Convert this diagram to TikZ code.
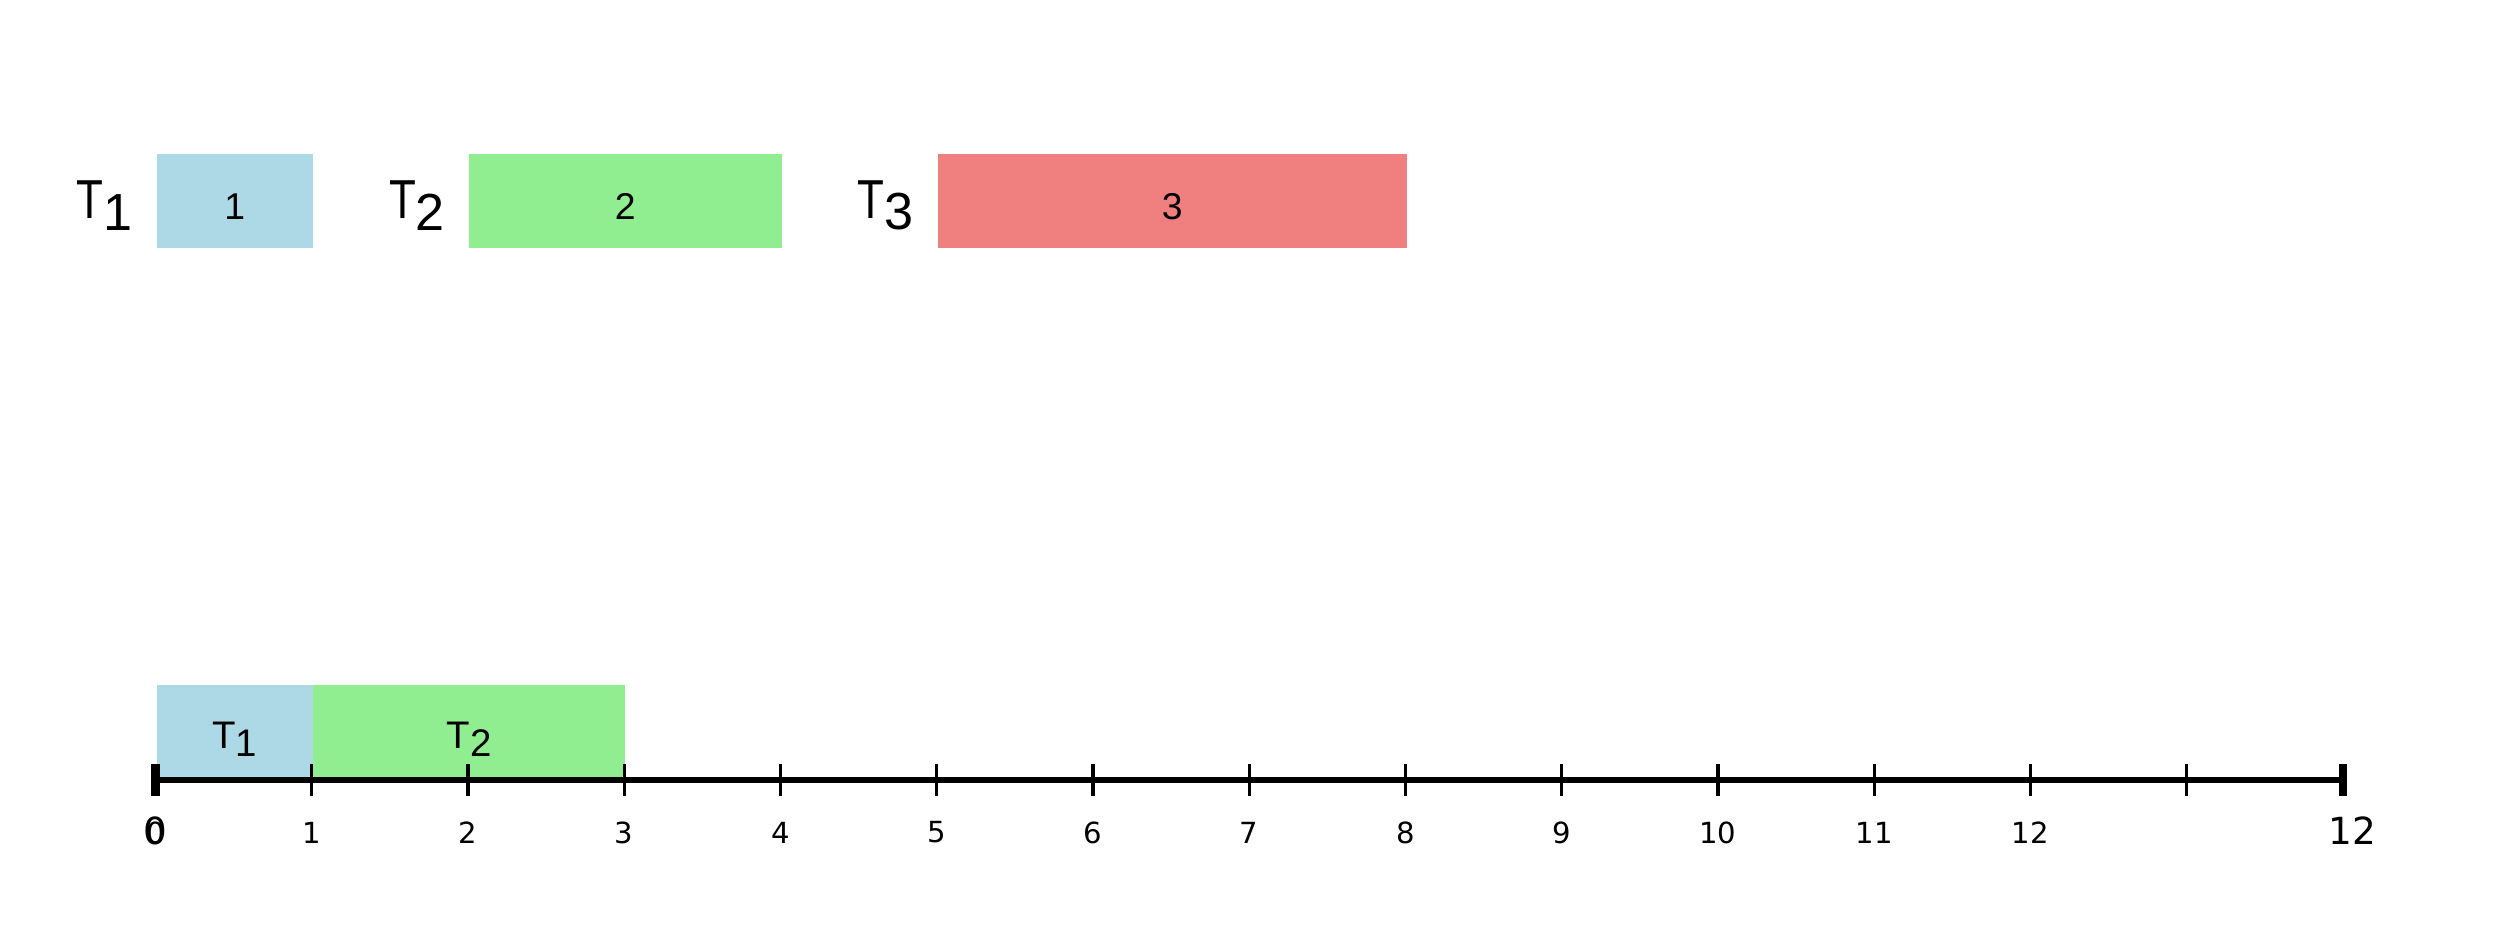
\documentclass[tikz,border=0pt]{standalone}
\usepackage{fontspec}
\setmainfont{Liberation Sans}
\newfontfamily\narrowfont[FakeStretch=0.8]{Liberation Sans}
\newfontfamily\tickfont{DejaVu Sans}
\usepackage{xcolor}
\usetikzlibrary{positioning}
\definecolor{taskblue}{RGB}{173,216,230}
\definecolor{taskgreen}{RGB}{144,238,144}
\definecolor{taskred}{RGB}{240,128,128}
\tikzset{
  job/.style={draw=none, inner sep=0pt, minimum height=6mm, anchor=south west,
    text height=2.36mm, text depth=0pt, font=\fontsize{6.8}{8}\selectfont},
  slot/.style={draw=none, inner sep=0pt, minimum height=6mm, anchor=south west},
  slotlbl/.style={inner sep=0pt, font=\fontsize{7}{8}\selectfont},
  tname/.style={inner sep=0pt, font=\fontsize{10}{11}\selectfont},
  axisline/.style={line width=1.1pt},
  endtick/.style={line width=1.6pt},
  midtick/.style={line width=0.6pt},
  ticklbl/.style={inner sep=0pt, font=\tickfont\fontsize{5.3}{6}\selectfont},
  endlbl/.style={inner sep=0pt, font=\tickfont\fontsize{6.8}{8}\selectfont}
}
\newcommand{\tsub}[1]{T\raisebox{-0.2em}{#1}}
\newcommand{\ttop}[1]{{\narrowfont T}\raisebox{-0.21em}{\fontsize{9.5}{10}\selectfont#1}}
\begin{document}
\begin{tikzpicture}
  \useasboundingbox (-0.995,-1.011) rectangle (15.005,4.992);

  % tasks
  \node[job, fill=taskblue, minimum width=10mm] (j1) at (0,3.4) {1};
  \node[job, fill=taskgreen, minimum width=20mm] (j2) at (2,3.4) {2};
  \node[job, fill=taskred, minimum width=30mm] (j3) at (5,3.4) {3};
  \node[tname, left=1.4mm of j1, yshift=-0.3mm] (n1) {\ttop{1}};
  \node[tname, left=1.4mm of j2, yshift=-0.3mm] (n2) {\ttop{2}};
  \node[tname, left=1.4mm of j3, yshift=-0.3mm] (n3) {\ttop{3}};

  % schedule
  \foreach \i in {0,...,14} \coordinate (t\i) at (\i,0);
  \node[slot, fill=taskblue, minimum width=10mm] (s1) at (t0) {};
  \node[slot, fill=taskgreen, minimum width=20mm] (s2) at (t1) {};
  \node[slotlbl] (s1l) at ([yshift=-0.45mm]s1.center) {\tsub{1}};
  \node[slotlbl] (s2l) at ([yshift=-0.45mm]s2.center) {\tsub{2}};

  % time axis
  \draw[axisline] (t0) -- (t14);
  \foreach \i in {1,...,13}
    \draw[midtick] ([yshift=-1mm]t\i) -- ([yshift=1mm]t\i);
  \foreach \i in {0,14}
    \draw[endtick] ([yshift=-1mm]t\i) -- ([yshift=1mm]t\i);
  \foreach \i in {0,...,12}
    \node[ticklbl] (l\i) at ([yshift=-3.36mm]t\i) {\i};
  \node[endlbl] (e0) at ([yshift=-3.23mm]t0) {0};
  \node[endlbl] (e14) at ([xshift=0.6mm, yshift=-3.23mm]t14) {12};
\end{tikzpicture}
\end{document}
